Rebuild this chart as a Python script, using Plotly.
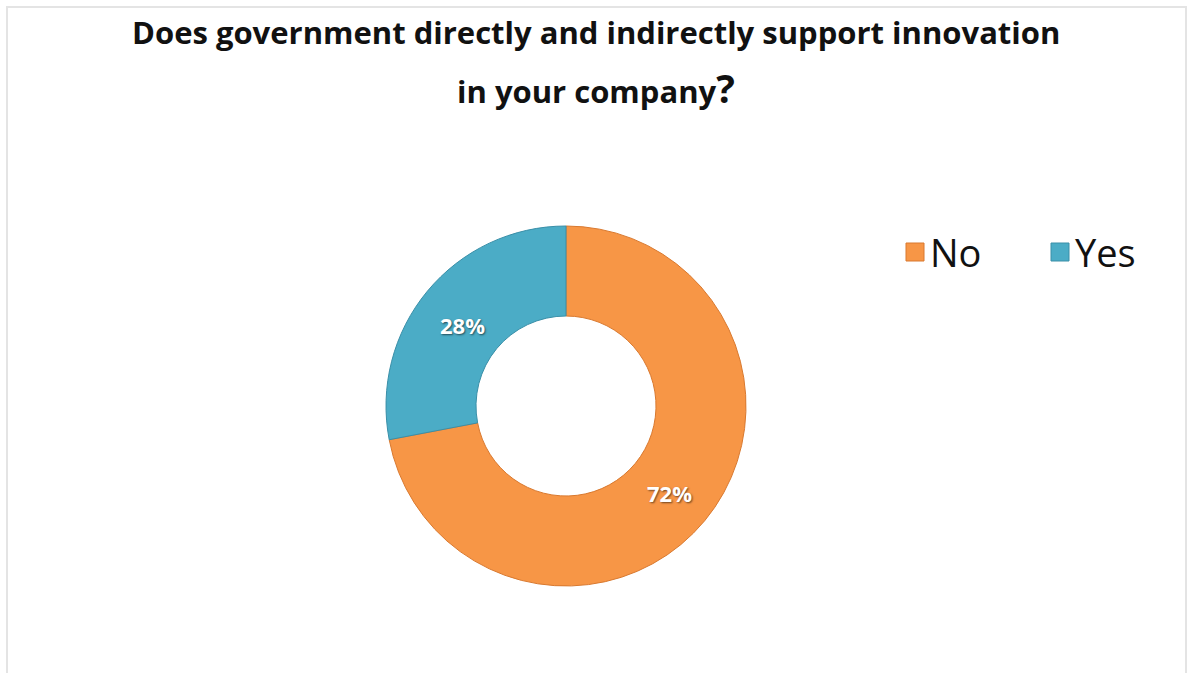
import plotly.graph_objects as go

# Survey answers and their shares (%)
answers = ["No", "Yes"]
shares = [72, 28]
colors = ["#F79646", "#4BACC6"]
edge_colors = ["#D9792F", "#3A8FA8"]

title_lines = ["Does government directly and indirectly support innovation",
               "in your company<span style='font-size:39px'>?</span>"]

W, H = 1192, 673

fig = go.Figure()
fig.add_trace(go.Pie(
    labels=answers,
    values=shares,
    hole=0.5,
    sort=False,
    direction="clockwise",
    rotation=0,
    marker=dict(colors=colors, line=dict(color=edge_colors, width=1)),
    textinfo="none",
    hoverinfo="label+percent",
    showlegend=False,
    domain=dict(x=[(566 - 180) / W, (566 + 180) / W],
                y=[1 - (406 + 180) / H, 1 - (406 - 180) / H]),
))

annotations = []
# Title, two centred lines
for line, yc in zip(title_lines, [32, 88]):
    annotations.append(dict(
        text=line, x=0.5, y=1 - yc / H, xref="paper", yref="paper",
        xanchor="center", yanchor="middle", showarrow=False,
        font=dict(family="Open Sans", size=31, color="#111111", weight="bold"),
    ))

# Percentage labels on the ring
label_pos = [(669, 493), (462, 325)]
for v, (px, py) in zip(shares, label_pos):
    annotations.append(dict(
        text=f"{v}%", x=px / W, y=1 - py / H, xref="paper", yref="paper",
        xanchor="center", yanchor="middle", showarrow=False,
        font=dict(family="Open Sans", size=22, color="white", weight="bold",
                  shadow="1px 1px 2px rgba(0,0,0,0.55)"),
    ))

# Legend: coloured squares followed by the answer names
shapes = []
legend_x = [906, 1051]
for name, col, edge, lx in zip(answers, colors, edge_colors, legend_x):
    shapes.append(dict(type="rect", xref="paper", yref="paper",
                       x0=lx / W, x1=(lx + 18) / W,
                       y0=1 - 261 / H, y1=1 - 243 / H,
                       fillcolor=col, line=dict(color=edge, width=1)))
    annotations.append(dict(
        text=name, x=(lx + 22) / W, y=1 - 252 / H, xref="paper", yref="paper",
        xanchor="left", yanchor="middle", showarrow=False,
        font=dict(family="Open Sans", size=38, color="#111111"),
    ))

# Light frame around the chart area
shapes.append(dict(type="rect", xref="paper", yref="paper",
                   x0=7 / W, x1=1186 / W, y0=-0.05, y1=1 - 7 / H,
                   line=dict(color="#E4E4E4", width=2), fillcolor="rgba(0,0,0,0)"))

fig.update_layout(
    width=W, height=H,
    margin=dict(l=0, r=0, t=0, b=0),
    paper_bgcolor="white",
    plot_bgcolor="white",
    annotations=annotations,
    shapes=shapes,
)

fig.write_html("out.html")
